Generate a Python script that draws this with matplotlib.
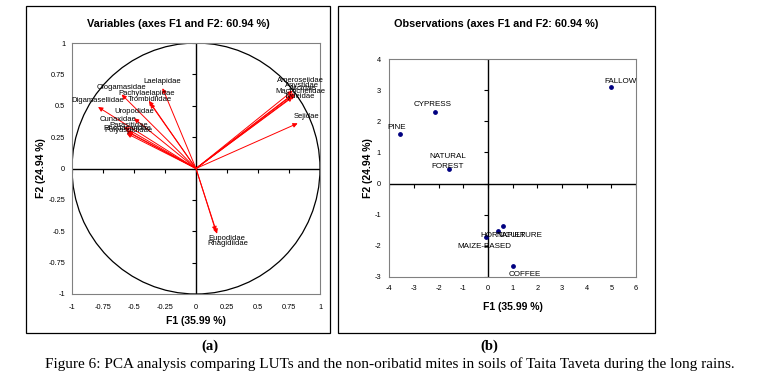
import numpy
from matplotlib import pyplot
from matplotlib.patches import Circle, Rectangle

# ---- data: variables (correlation circle)
variable_names = [
    'Laelapidae', 'Ologamasidae', 'Pachylaelapidae', 'Trombidiidae',
    'Digamasellidae', 'Uropodidae', 'Cunaxidae', 'Parasitidae',
    'Polyaspididae', 'Rhodacaridae', 'Ameroseiidae', 'Anystidae',
    'Ascidae', 'Macrochelidae', 'Tydeidae', 'Sejidae',
    'Eupodidae', 'Rhagidiidae',
]
variable_f1 = [-0.27, -0.60, -0.38, -0.37, -0.79, -0.50, -0.58, -0.56,
               -0.56, -0.55, 0.78, 0.79, 0.80, 0.77, 0.78, 0.82, 0.16, 0.17]
variable_f2 = [0.64, 0.59, 0.54, 0.52, 0.49, 0.40, 0.33, 0.30,
               0.28, 0.29, 0.62, 0.60, 0.59, 0.58, 0.57, 0.36, -0.50, -0.52]

# ---- data: observations (land use types)
observation_names = ['PINE', 'CYPRESS', 'NATURAL\nFOREST', 'FALLOW',
                     'HORTICULTURE', 'NAPIER', 'MAIZE-BASED', 'COFFEE']
observation_f1 = [-3.57, -2.15, -1.58, 4.99, 0.39, 0.60, -0.07, 1.00]
observation_f2 = [1.58, 2.30, 0.46, 3.10, -1.52, -1.36, -1.73, -2.65]

var_ticks = [-1, -0.75, -0.5, -0.25, 0, 0.25, 0.5, 0.75, 1]
var_tick_labels = ['-1', '-0.75', '-0.5', '-0.25', '0', '0.25', '0.5', '0.75', '1']
obs_xticks = list(range(-4, 7))
obs_yticks = list(range(-3, 5))

# label offsets in pixels (dx right, dy down), layout only
var_offset = {
    'Cunaxidae': (-6, -8), 'Parasitidae': (2, -5), 'Polyaspididae': (2, -3),
    'Rhodacaridae': (0, -4), 'Pachylaelapidae': (-2, -7), 'Trombidiidae': (0, -4),
    'Ameroseiidae': (8, -10), 'Anystidae': (8, -8), 'Ascidae': (8, -6),
    'Macrochelidae': (9, -4), 'Tydeidae': (7, 0), 'Sejidae': (9, -7),
    'Eupodidae': (11, 7), 'Rhagidiidae': (11, 10),
}
obs_offset = {
    'PINE': (-3, -7), 'CYPRESS': (-2, -8), 'NATURAL\nFOREST': (-1, -8),
    'FALLOW': (9, -6), 'HORTICULTURE': (14, 5), 'NAPIER': (8, 10),
    'MAIZE-BASED': (-2, 9), 'COFFEE': (12, 9),
}

W, H = 779, 376
PX = 0.72  # points per pixel at dpi 100
grey = '#808080'
pyplot.rcParams['font.family'] = ['Liberation Sans', 'DejaVu Sans']
pyplot.rcParams['axes.unicode_minus'] = False

figure = pyplot.figure(figsize=(W / 100, H / 100), dpi=100)


def fig_rect(x0, y0, x1, y1):
    return [x0 / W, 1 - y1 / H, (x1 - x0) / W, (y1 - y0) / H]


def style_axes(ax):
    for spine in ax.spines.values():
        spine.set_color(grey)
        spine.set_linewidth(0.8)
    ax.tick_params(length=0, labelsize=5.3, colors='black')
    ax.axhline(0, color='black', lw=1.0, zorder=1)
    ax.axvline(0, color='black', lw=1.0, zorder=1)


# ---- panel (a)
ax = figure.add_axes(fig_rect(72, 43, 320, 294))
style_axes(ax)
ax.set_xlim(-1, 1)
ax.set_ylim(-1, 1)
ax.set_xticks(var_ticks, var_tick_labels)
ax.set_yticks(var_ticks, var_tick_labels)
ax.tick_params(axis='x', pad=7)
ax.tick_params(axis='y', pad=5)
ax.plot(var_ticks, numpy.zeros(len(var_ticks)), ls='none', marker=3, ms=3, color='black', mew=0.8)
ax.plot(numpy.zeros(len(var_ticks)), var_ticks, ls='none', marker=0, ms=3, color='black', mew=0.8)
ax.add_patch(Circle((0, 0), 1, fill=False, color='black', lw=0.9, zorder=2))
for name, x, y in zip(variable_names, variable_f1, variable_f2):
    ax.annotate('', xy=(x, y), xytext=(0, 0),
                arrowprops=dict(arrowstyle='-|>,head_length=0.45,head_width=0.22',
                                color='#ff0000', lw=0.7, mutation_scale=6,
                                shrinkA=0, shrinkB=0), zorder=3)
    dx, dy = var_offset.get(name, (0, -6.5))
    ax.annotate(name, xy=(x, y), xytext=(dx * PX, -dy * PX), textcoords='offset points',
                ha='center', va='center', fontsize=5.5, zorder=4)
ax.set_xlabel('F1 (35.99 %)', fontsize=7.5, fontweight='bold', labelpad=4)
ax.set_ylabel('F2 (24.94 %)', fontsize=7.5, fontweight='bold', labelpad=2)

# ---- panel (b)
ax = figure.add_axes(fig_rect(389.3, 59.3, 636, 276.7))
style_axes(ax)
ax.set_xlim(-4, 6)
ax.set_ylim(-3, 4)
ax.set_xticks(obs_xticks)
ax.set_yticks(obs_yticks)
ax.tick_params(axis='x', pad=6)
ax.tick_params(axis='y', pad=6)
ax.plot(obs_xticks, numpy.zeros(len(obs_xticks)), ls='none', marker=3, ms=3, color='black', mew=0.8)
ax.plot(numpy.zeros(len(obs_yticks)), obs_yticks, ls='none', marker=0, ms=3, color='black', mew=0.8)
ax.scatter(observation_f1, observation_f2, s=6, color='#000080', zorder=3)
for name, x, y in zip(observation_names, observation_f1, observation_f2):
    dx, dy = obs_offset[name]
    ax.annotate(name, xy=(x, y), xytext=(dx * PX, -dy * PX), textcoords='offset points',
                ha='center', va='center', fontsize=5.8, linespacing=1.6, zorder=4)
ax.set_xlabel('F1 (35.99 %)', fontsize=7.5, fontweight='bold', labelpad=7)
ax.set_ylabel('F2 (24.94 %)', fontsize=7.5, fontweight='bold', labelpad=1)

# ---- panel frames, titles and caption
for x0, x1, title in [(26, 330, 'Variables (axes F1 and F2: 60.94 %)'),
                      (338, 655, 'Observations (axes F1 and F2: 60.94 %)')]:
    figure.add_artist(Rectangle((x0 / W, 1 - 333 / H), (x1 - x0) / W, 327 / H,
                                transform=figure.transFigure, fill=False,
                                edgecolor='black', lw=0.9))
    figure.text((x0 + x1) / 2 / W, 1 - 24 / H, title, fontsize=7.8, fontweight='bold',
                ha='center', va='center')
serif = ['Liberation Serif', 'DejaVu Serif']
figure.text(210 / W, 1 - 346 / H, '(a)', family=serif, fontweight='bold', fontsize=10.5,
            ha='center', va='center')
figure.text(489 / W, 1 - 346 / H, '(b)', family=serif, fontweight='bold', fontsize=10.5,
            ha='center', va='center')
figure.text(390 / W, 1 - 364 / H,
            'Figure 6: PCA analysis comparing LUTs and the non-oribatid mites in soils '
            'of Taita Taveta during the long rains.',
            family=serif, fontsize=11, ha='center', va='center')

figure.savefig('out.png', dpi=100)
